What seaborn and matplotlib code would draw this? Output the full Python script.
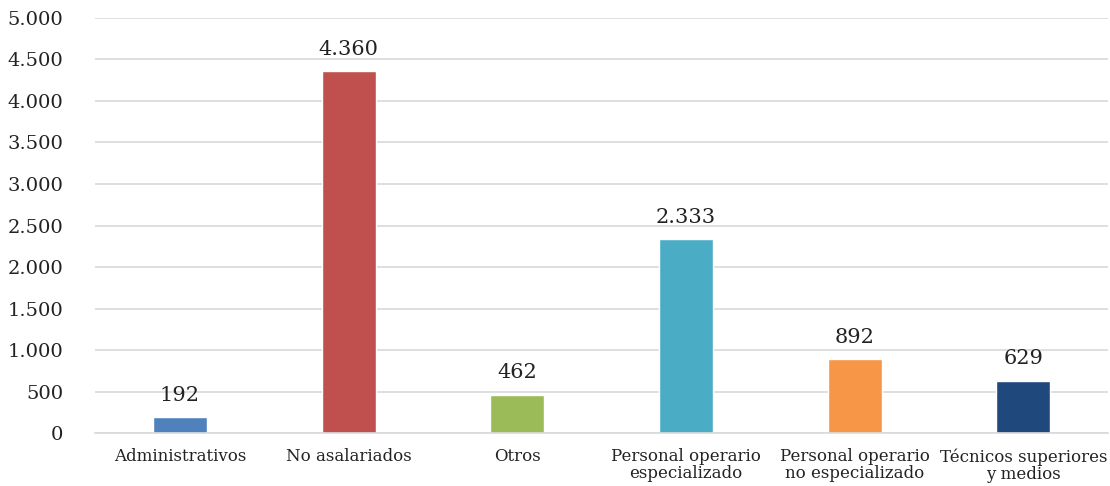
import matplotlib
matplotlib.use("Agg")
import matplotlib.pyplot as plt
import seaborn as sns
import pandas as pd

categories = ["Administrativos", "No asalariados", "Otros",
              "Personal operario\nespecializado", "Personal operario\nno especializado",
              "Técnicos superiores\ny medios"]
values = [192, 4360, 462, 2333, 892, 629]
colors = ["#4f81bd", "#c0504d", "#9bbb59", "#4bacc6", "#f79646", "#1f497d"]
yticks = [0, 500, 1000, 1500, 2000, 2500, 3000, 3500, 4000, 4500, 5000]

def fmt(v):
    return f"{v:,}".replace(",", ".")

sns.set_theme(style="white")
plt.rcParams['font.family'] = ['DejaVu Serif']

df = pd.DataFrame({"cat": categories, "val": values})
fig = plt.figure(figsize=(11.10, 4.86), dpi=100)
ax = fig.add_axes([0.086, 0.109, 0.912, 0.854])
sns.barplot(data=df, x="cat", y="val", hue="cat", palette=colors, width=0.32,
            legend=False, ax=ax, saturation=1)
ax.set_ylim(0, 5000)
ax.set_xlim(-0.5, 5.5)
ax.set_yticks(yticks)
ax.set_yticklabels([fmt(v) for v in yticks], fontsize=14, color="#222222")
ax.tick_params(axis="x", labelsize=12, colors="#222222", length=0, pad=11)
ax.tick_params(axis="y", length=0, pad=23)
for lbl in ax.get_xticklabels():
    lbl.set_linespacing(1.0)
ax.yaxis.grid(True, color="#d9d9d9", linewidth=1.2)
ax.set_axisbelow(True)
for s in ["top", "right", "left"]:
    ax.spines[s].set_visible(False)
ax.spines["bottom"].set_color("#d9d9d9")
ax.spines["bottom"].set_linewidth(1.2)
ax.set_xlabel("")
ax.set_ylabel("")
for i, v in enumerate(values):
    ax.text(i, v + 150, fmt(v), ha="center", va="bottom", fontsize=15, color="#222222")
fig.savefig("out.png", dpi=100)
